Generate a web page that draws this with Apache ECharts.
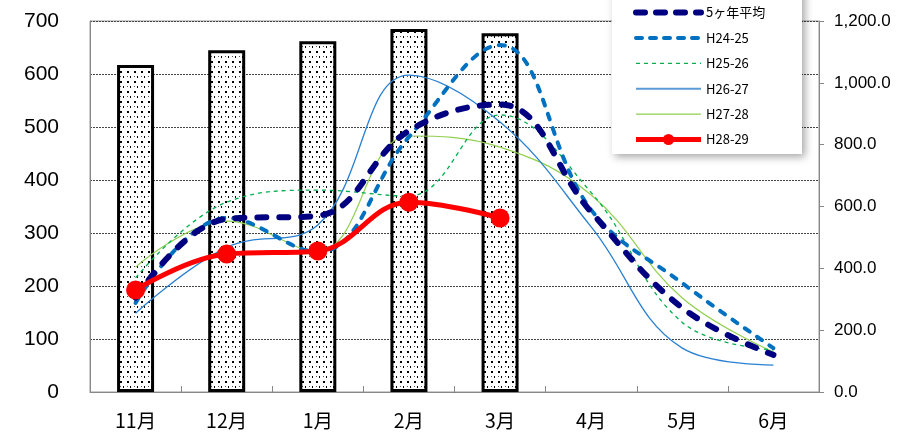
<!DOCTYPE html>
<html><head><meta charset="utf-8">
<script src="https://cdn.jsdelivr.net/npm/echarts@6/dist/echarts.min.js"></script>
<style>html,body{margin:0;padding:0;background:#fff}#c{width:912px;height:437px}</style>
</head><body><div id="c"></div>
<script>
const categories = ['11月','12月','1月','2月','3月','4月','5月','6月'];
const barValues = [617, 645, 662, 685, 677, null, null, null];
const avg5  = [305, 560, 570, 845, 930, 582, 272, 120];
const h2425 = [288, 563, 453, 825, 1122, 589, 352, 142];
const h2526 = [369, 614, 653, 634, 896, 645, 225, 136];
const h2627 = [255, 468, 540, 1025, 873, 534, 142, 87];
const h2728 = [404, 553, 455, 828, 792, 637, 304, 129];
const h2829 = [330, 446, 456, 614, 563, null, null, null];
const leftTicks = {min:0, max:700, interval:100};
const rightTicks = {min:0, max:1200, interval:200};

const pat = document.createElement('canvas');
pat.width = 7; pat.height = 10;
const pc = pat.getContext('2d');
pc.fillStyle = '#fff'; pc.fillRect(0,0,7,10);
pc.fillStyle = '#000';
pc.fillRect(1,1,2,2);
pc.fillRect(4,6,1,2);
pc.fillStyle = '#555';
pc.fillRect(1,6,1,1);

function fmt(v){
  const s = Math.round(v).toString().replace(/\B(?=(\d{3})+(?!\d))/g, ',');
  return s + '.0';
}
const chart = echarts.init(document.getElementById('c'));
const jp = 'Noto Sans CJK JP';
const noSym = {color:'rgba(0,0,0,0)',borderWidth:0};
chart.setOption({
  animation:false,
  grid:{left:90,right:93,top:21,bottom:45,show:true,borderColor:'#999',borderWidth:1},
  graphic:[{type:'rect',shape:{x:612,y:-20,width:190,height:174},
    style:{fill:'#fff',shadowBlur:8,shadowOffsetX:3,shadowOffsetY:3,shadowColor:'rgba(0,0,0,0.35)'},z:50}],
  legend:{orient:'vertical',left:628,top:1,itemWidth:65,itemHeight:14,itemGap:12.4,z:60,
    textStyle:{fontFamily:jp,fontSize:13,color:'#000'},
    data:[
      {name:'5ヶ年平均',itemStyle:noSym,lineStyle:{color:'#000080',width:6,type:[9,11],cap:'round'}},
      {name:'H24-25',itemStyle:noSym,lineStyle:{color:'#0070C0',width:4,type:[6,8],cap:'round'}},
      {name:'H25-26',itemStyle:noSym,lineStyle:{color:'#00B050',width:1.3,type:[4,4]}},
      {name:'H26-27',itemStyle:noSym,lineStyle:{color:'#5B9BD5',width:2}},
      {name:'H27-28',itemStyle:noSym,lineStyle:{color:'#92D050',width:1.3}},
      {name:'H28-29',lineStyle:{color:'#FF0000',width:5}}
    ]},
  xAxis:{type:'category',data:categories,boundaryGap:true,
    axisLine:{lineStyle:{color:'#888'}},
    axisTick:{show:true,inside:true,length:6,lineStyle:{color:'#888'}},
    axisLabel:{fontFamily:jp,fontSize:19.5,color:'#000',margin:19}},
  yAxis:[
    {type:'value',min:leftTicks.min,max:leftTicks.max,interval:leftTicks.interval,
     axisLine:{show:true,lineStyle:{color:'#888'}},axisTick:{show:false},
     axisLabel:{fontFamily:'Liberation Sans',fontSize:21,color:'#000',margin:31},
     splitLine:{show:true,lineStyle:{color:'#444',type:[2,1],width:1}}},
    {type:'value',min:rightTicks.min,max:rightTicks.max,interval:rightTicks.interval,position:'right',
     axisLine:{show:true,lineStyle:{color:'#888'}},
     axisTick:{show:true,length:5,lineStyle:{color:'#888'}},
     axisLabel:{fontFamily:'Liberation Sans',fontSize:17,color:'#000',margin:15,formatter:fmt},
     splitLine:{show:false}}
  ],
  series:[
    {name:'bars',type:'bar',yAxisIndex:0,data:barValues,barWidth:37,
     itemStyle:{color:{image:pat,repeat:'repeat'},borderColor:'#000',borderWidth:3},z:1},
    {name:'H27-28',type:'line',yAxisIndex:1,data:h2728,smooth:0.4,symbol:'none',
     lineStyle:{color:'#92D050',width:1.2},itemStyle:{color:'#92D050'},z:3},
    {name:'H26-27',type:'line',yAxisIndex:1,data:h2627,smooth:0.4,symbol:'none',
     lineStyle:{color:'#2A80D2',width:1.3},itemStyle:{color:'#5B9BD5'},z:3},
    {name:'H25-26',type:'line',yAxisIndex:1,data:h2526,smooth:0.4,symbol:'none',
     lineStyle:{color:'#00B050',width:1.3,type:[4,4]},itemStyle:{color:'#00B050'},z:3},
    {name:'H24-25',type:'line',yAxisIndex:1,data:h2425,smooth:0.4,symbol:'none',
     lineStyle:{color:'#0070C0',width:4,type:[6,9],cap:'round'},itemStyle:{color:'#0070C0'},z:4},
    {name:'5ヶ年平均',type:'line',yAxisIndex:1,data:avg5,smooth:0.4,symbol:'none',
     lineStyle:{color:'#000080',width:6,type:[9,13],cap:'round'},itemStyle:{color:'#000080'},z:5},
    {name:'H28-29',type:'line',yAxisIndex:1,data:h2829,smooth:0.4,symbol:'circle',symbolSize:19,
     lineStyle:{color:'#FF0000',width:5},itemStyle:{color:'#FF0000'},z:6}
  ]
});
</script></body></html>
